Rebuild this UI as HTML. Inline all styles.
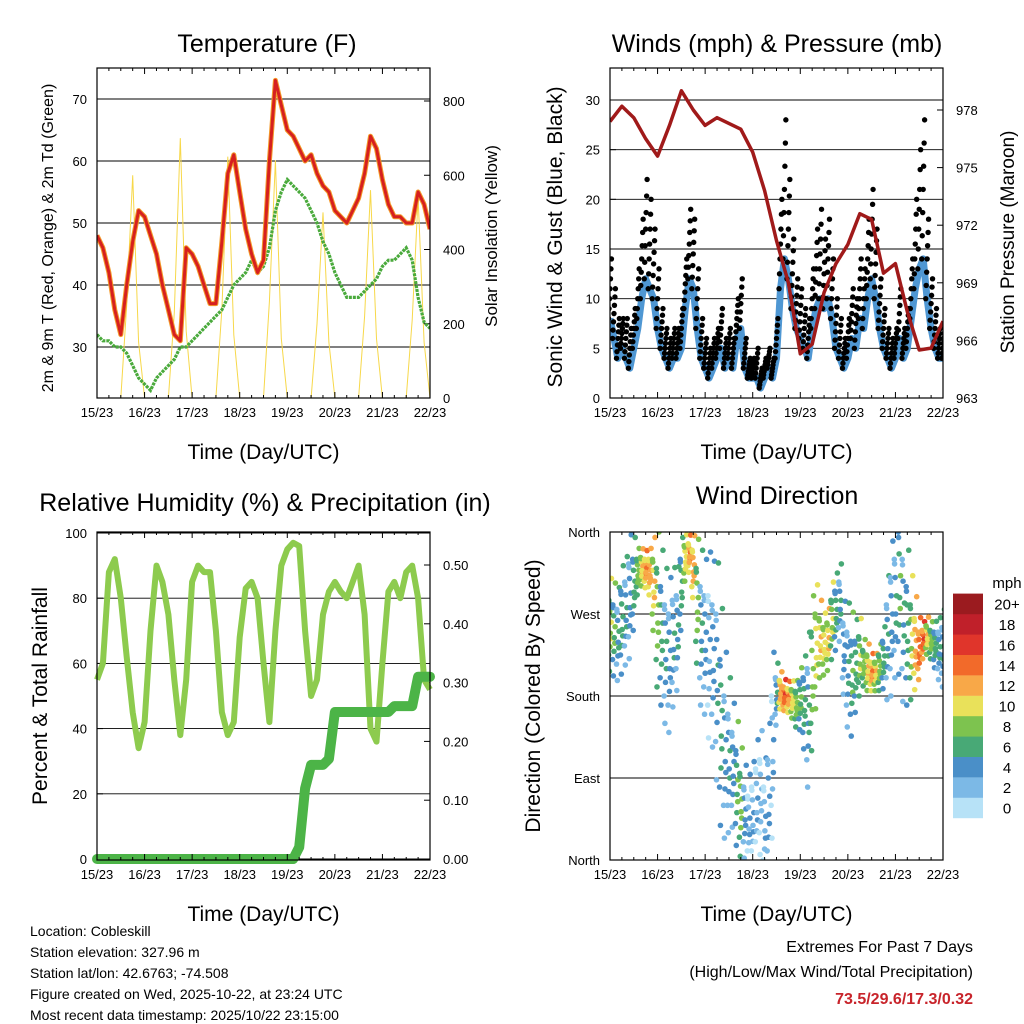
<!DOCTYPE html>
<html><head><meta charset="utf-8">
<style>
html,body{margin:0;padding:0;background:#fff;}
svg{display:block;font-family:"Liberation Sans",sans-serif;}
</style></head>
<body>
<svg id="chart" width="1024" height="1024" viewBox="0 0 1024 1024" xmlns="http://www.w3.org/2000/svg"></svg>
<script>
// ---------- DATA (3-hourly, t = 0..7 days) ----------
const dayLabels = ["15/23","16/23","17/23","18/23","19/23","20/23","21/23","22/23"];
const tempF = [48,46,42,36,32,40,47,52,51,48,45,40,36,32,31,46,45,43,40,37,37,47,58,61,55,49,45,42,44,60,73,69,65,64,62,60,61,58,56,55,52,51,50,52,54,58,64,62,57,53,51,51,50,50,55,53,49];
const dewF = [32,31,31,30,30,29,27,25,24,23,25,26,27,28,30,30,31,32,33,34,35,36,38,40,41,42,44,42,43,46,52,55,57,56,55,54,52,50,47,45,42,40,38,38,38,39,40,41,43,44,44,45,46,44,38,34,33];
const solar = [0,0,0,0,0,250,600,150,0,0,0,0,0,230,700,180,0,0,0,0,0,240,650,170,0,0,0,0,0,260,640,160,0,0,0,0,0,200,500,150,0,0,0,0,0,220,560,160,0,0,0,0,0,210,540,150,0];
const rhPct = [55,60,88,92,80,62,45,34,42,70,90,85,75,55,38,55,85,90,88,88,70,45,38,42,68,83,85,80,60,42,70,90,95,97,96,70,50,55,75,82,85,82,80,85,90,75,40,36,60,82,85,80,88,90,80,55,52];
const precipIn = [0,0,0,0,0,0,0,0,0,0,0,0,0,0,0,0,0,0,0,0,0,0,0,0,0,0,0,0,0,0,0,0,0,0,0.02,0.12,0.16,0.16,0.16,0.17,0.25,0.25,0.25,0.25,0.25,0.25,0.25,0.25,0.25,0.25,0.26,0.26,0.26,0.26,0.31,0.31,0.31];
// pressure 6-hourly
const pressMb = [977.4,978.2,977.6,976.5,975.6,977.2,979.0,978.0,977.2,977.6,977.3,977.0,975.8,973.8,971.2,969.0,965.3,965.8,968.5,970.0,971.0,972.6,972.3,969.5,970.0,967.5,965.5,965.6,967.0];
// wind 2-hourly
const windSpd = [8,6,4,5,4,3,5,7,10,12,11,10,7,5,4,3,4,4,5,9,12,11,7,4,3,2,3,4,5,3,4,3,6,7,3,2,2,2,1,2,3,2,4,11,14,12,9,7,6,5,4,7,9,10,9,10,8,5,4,3,4,6,5,8,7,10,12,10,7,5,4,3,4,6,4,5,8,11,13,14,10,7,5,4,4];
const windGust = [14,11,8,8,8,7,9,13,18,22,20,17,13,9,7,6,7,7,9,14,19,18,13,8,6,5,6,7,9,6,7,6,10,12,6,4,4,5,3,4,5,4,8,20,28,22,16,12,11,9,8,13,17,19,16,18,14,10,8,6,8,11,10,14,13,18,21,17,12,9,7,6,7,11,7,9,14,20,25,28,18,12,9,7,7];
const windDir = [255,250,245,260,270,285,300,315,320,318,315,300,270,250,230,220,240,250,300,330,335,320,280,250,240,230,220,200,150,120,110,100,80,60,50,40,45,60,70,40,60,120,180,185,180,178,175,170,175,170,160,200,230,240,235,240,260,270,280,230,210,200,210,220,215,210,205,205,210,220,240,260,280,300,270,250,240,235,230,240,245,240,235,230,230];
const dirSpread = [30,30,30,35,35,40,30,15,12,12,15,30,50,50,50,50,45,40,30,15,12,20,40,50,50,60,60,70,70,60,50,40,40,35,30,30,35,40,40,40,50,60,20,12,10,10,12,15,20,30,50,50,40,25,20,20,25,25,25,30,40,40,30,25,15,15,12,12,15,20,40,50,50,60,60,50,40,30,20,12,12,12,15,20,25];
const speedBins = ["0","2","4","6","8","10","12","14","16","18","20+"];
const binColors = ["#b7e2f7","#7cb9e6","#4a8fc8","#48a976","#7dc34f","#e9e15a","#f8a848","#f26a2a","#e0352b","#c0202a","#9b1b1f"];

// ---------- HELPERS ----------
const NS="http://www.w3.org/2000/svg";
const svg=document.getElementById('chart');
function mk(tag,attrs,parent,text){
  const e=document.createElementNS(NS,tag);
  for(const k in attrs) e.setAttribute(k,attrs[k]);
  if(text!==undefined) e.textContent=text;
  (parent||svg).appendChild(e);
  return e;
}
function txt(parent,x,y,s,size,anchor,name,extra){
  const e=mk('text',Object.assign({x:x,y:y,'font-size':size,'text-anchor':anchor||'middle',fill:'#000'},extra||{}),parent,s);
  
  
  return e;
}
function vtxt(parent,x,y,s,size,name){
  const e=mk('text',{x:0,y:0,'font-size':size,'text-anchor':'middle',fill:'#000',transform:`translate(${x},${y}) rotate(-90)`},parent,s);
  
  
  return e;
}
function panel(name,x0,y0,x1,y1){
  const g=mk('g',{});
  
  
  return {g,x0,y0,x1,y1,xs:t=>x0+(x1-x0)*t/7};
}
function lin(d0,d1,p0,p1){return v=>p0+(v-d0)*(p1-p0)/(d1-d0);}
function frame(P){
  const r=mk('rect',{x:P.x0,y:P.y0,width:P.x1-P.x0,height:P.y1-P.y0,fill:'none',stroke:'#000','stroke-width':1.2},P.g);
  
  
}
function xAxis(P){
  const ax=mk('g',{},P.g);
  
  
  dayLabels.forEach((l,i)=>{
    const x=P.xs(i);
    mk('line',{x1:x,x2:x,y1:P.y1,y2:P.y1-6,stroke:'#000'},ax);
    mk('line',{x1:x,x2:x,y1:P.y0,y2:P.y0+6,stroke:'#000'},ax);
    txt(ax,x,P.y1+19,l,13,'middle','x-tick-label');
  });
  for(let i=0;i<28;i++){ if(i%4===0) continue; const x=P.xs(i/4);
    mk('line',{x1:x,x2:x,y1:P.y1,y2:P.y1-3,stroke:'#000'},ax);
    mk('line',{x1:x,x2:x,y1:P.y0,y2:P.y0+3,stroke:'#000'},ax);}
  txt(ax,(P.x0+P.x1)/2,P.y1+61,'Time (Day/UTC)',21,'middle','x-axis-title');
}
function yTicks(P,vals,labels,ys,side,grid,name){
  const ax=mk('g',{},P.g);
  
  
  vals.forEach((v,i)=>{
    const y=ys(v);
    if(grid) mk('line',{x1:P.x0,x2:P.x1,y1:y,y2:y,stroke:'#000','stroke-width':0.9},ax);
    if(side==='l'){ mk('line',{x1:P.x0,x2:P.x0+6,y1:y,y2:y,stroke:'#000'},ax);
      txt(ax,P.x0-10,y+5,labels[i],13,'end','y-tick-label');}
    else { mk('line',{x1:P.x1,x2:P.x1-6,y1:y,y2:y,stroke:'#000'},ax);
      txt(ax,P.x1+13,y+5,labels[i],13,'start','y2-tick-label');}
  });
}
function pathD(arr,xs,ys,step){return arr.map((v,i)=>(i?'L':'M')+xs(i*step).toFixed(1)+','+ys(v).toFixed(1)).join('');}

// ---------- PANEL 1: TEMPERATURE ----------
{
  const P=panel('temperature-panel',97,68,430,398);
  const yT=lin(30,70,347,99), yS=lin(0,800,398,101);
  txt(P.g,267,52,'Temperature (F)',25,'middle','chart-title');
  yTicks(P,[30,40,50,60,70],['30','40','50','60','70'],yT,'l',true,'y-axis-temp');
  yTicks(P,[0,200,400,600,800],['0','200','400','600','800'],yS,'r',false,'y-axis-solar');
  const clip=mk('clipPath',{id:'c1'});mk('rect',{x:97,y:68,width:333,height:330},clip);
  const s=mk('g',{'clip-path':'url(#c1)'},P.g);
  const ps=mk('path',{d:pathD(solar,P.xs,yS,0.125),fill:'none',stroke:'#f7d84a','stroke-width':1},s);
  
  
  const pd=mk('path',{d:pathD(dewF,P.xs,yT,0.125),fill:'none',stroke:'#4aaa3c','stroke-width':3.2,'stroke-dasharray':'3 1'},s);
  
  
  const po=mk('path',{d:pathD(tempF,P.xs,yT,0.125),fill:'none',stroke:'#f39a2a','stroke-width':5,'stroke-linejoin':'round'},s);
  
  
  const pr=mk('path',{d:pathD(tempF,P.xs,yT,0.125),fill:'none',stroke:'#d6201f','stroke-width':3,'stroke-linejoin':'round'},s);
  
  
  frame(P);xAxis(P);
  vtxt(P.g,53,238,'2m & 9m T (Red, Orange) & 2m Td (Green)',16,'y-axis-title');
  vtxt(P.g,497,236,'Solar Insolation (Yellow)',17,'y2-axis-title');
}

// ---------- PANEL 2: WINDS & PRESSURE ----------
{
  const P=panel('winds-panel',610,68,943,398);
  const yW=lin(0,30,398,100), yP=lin(963,978,398,110);
  txt(P.g,777,52,'Winds (mph) & Pressure (mb)',25,'middle','chart-title');
  yTicks(P,[0,5,10,15,20,25,30],['0','5','10','15','20','25','30'],yW,'l',true,'y-axis-wind');
  yTicks(P,[963,966,969,972,975,978],['963','966','969','972','975','978'],yP,'r',false,'y-axis-pressure');
  const clip=mk('clipPath',{id:'c2'});mk('rect',{x:610,y:68,width:333,height:330},clip);
  const s=mk('g',{'clip-path':'url(#c2)'},P.g);
  const st=1/12;
  const pw=mk('path',{d:pathD(windSpd,P.xs,yW,st),fill:'none',stroke:'#4f97d3','stroke-width':7,'stroke-linejoin':'round'},s);
  
  
  const gg=mk('g',{},s);
  
  
  windGust.forEach((g,i)=>{
    for(let k=0;k<7;k++){
      const v=windSpd[i]+(g-windSpd[i])*k/6;
      const c=mk('circle',{cx:P.xs(i*st+(k-3)*0.01),cy:yW(v),r:2.7,fill:'#000'},gg);
      
      
    }
  });
  const pp=mk('path',{d:pathD(pressMb,P.xs,yP,0.25),fill:'none',stroke:'#a01a1a','stroke-width':3.5,'stroke-linejoin':'round'},s);
  
  
  frame(P);xAxis(P);
  vtxt(P.g,562,237,'Sonic Wind & Gust (Blue, Black)',21,'y-axis-title');
  vtxt(P.g,1014,242,'Station Pressure (Maroon)',19,'y2-axis-title');
}

// ---------- PANEL 3: RH & PRECIP ----------
{
  const P=panel('humidity-panel',97,532,430,860);
  const yR=lin(0,100,859,533), yQ=lin(0,0.5,859,565);
  txt(P.g,265,511,'Relative Humidity (%) & Precipitation (in)',25,'middle','chart-title');
  yTicks(P,[0,20,40,60,80,100],['0','20','40','60','80','100'],yR,'l',true,'y-axis-rh');
  yTicks(P,[0,0.1,0.2,0.3,0.4,0.5],['0.00','0.10','0.20','0.30','0.40','0.50'],yQ,'r',false,'y-axis-precip');
  const clip=mk('clipPath',{id:'c3'});mk('rect',{x:92,y:526,width:343,height:340},clip);
  const s=mk('g',{'clip-path':'url(#c3)'},P.g);
  const ph=mk('path',{d:pathD(rhPct,P.xs,yR,0.125),fill:'none',stroke:'#8dcb4e','stroke-width':6,'stroke-linejoin':'round'},s);
  
  
  const pq=mk('path',{d:pathD(precipIn,P.xs,yQ,0.125),fill:'none',stroke:'#4cb447','stroke-width':10,'stroke-linejoin':'round','stroke-linecap':'round'},s);
  
  
  frame(P);xAxis(P);
  vtxt(P.g,47,696,'Percent & Total Rainfall',21,'y-axis-title');
}

// ---------- PANEL 4: WIND DIRECTION ----------
{
  const P=panel('wind-direction-panel',610,532,943,860);
  const yD=lin(0,360,860,532);
  txt(P.g,777,504,'Wind Direction',25,'middle','chart-title');
  yTicks(P,[0,90,180,270,360],['North','East','South','West','North'],yD,'l',true,'y-axis-direction');
  const clip=mk('clipPath',{id:'c4'});mk('rect',{x:610,y:532,width:333,height:328},clip);
  const s=mk('g',{'clip-path':'url(#c4)'},P.g);
  const st=1/12;
  const offs=[-1,0.6,-0.4,1,-0.7,0.2,0.9,-0.2,1.8,-1.6];
  windDir.forEach((d,i)=>{
    offs.forEach((o,k)=>{
      const dv=d+dirSpread[i]*o;
      const sp=Math.max(0,windSpd[i]+(k%3-1)*1.5);
      const bin=Math.min(10,Math.round(sp/2));
      const c=mk('circle',{cx:P.xs(i*st+((k*37)%11-5)*0.006),cy:yD(dv),r:2.8,fill:binColors[bin]},s);
      
      
    });
  });
  frame(P);xAxis(P);
  vtxt(P.g,540,696,'Direction (Colored By Speed)',21,'y-axis-title');
  const lg=mk('g',{},svg);
  
  
  txt(lg,1007,588,'mph',15,'middle','colorbar-title');
  speedBins.forEach((b,i)=>{
    const y=818-(i+1)*20.4;
    const r=mk('rect',{x:953,y:y,width:30,height:20.6,fill:binColors[i]},lg);
    
    
    txt(lg,1007,y+16,b,15,'middle','colorbar-label');
  });
}

// ---------- FOOTER TEXT ----------
{
  const g=mk('g',{});
  
  
  const lines=['Location: Cobleskill','Station elevation: 327.96 m','Station lat/lon: 42.6763; -74.508','Figure created on Wed, 2025-10-22, at 23:24 UTC','Most recent data timestamp: 2025/10/22 23:15:00'];
  lines.forEach((l,i)=>txt(g,30,936+i*21,l,14,'start','info-line'));
  const h=mk('g',{});
  
  
  txt(h,973,952,'Extremes For Past 7 Days',16,'end','extremes-title');
  txt(h,973,977,'(High/Low/Max Wind/Total Precipitation)',16,'end','extremes-subtitle');
  txt(h,973,1004,'73.5/29.6/17.3/0.32',16,'end','extremes-values',{fill:'#c8242b','font-weight':'bold'});
}
</script>
</body></html>
